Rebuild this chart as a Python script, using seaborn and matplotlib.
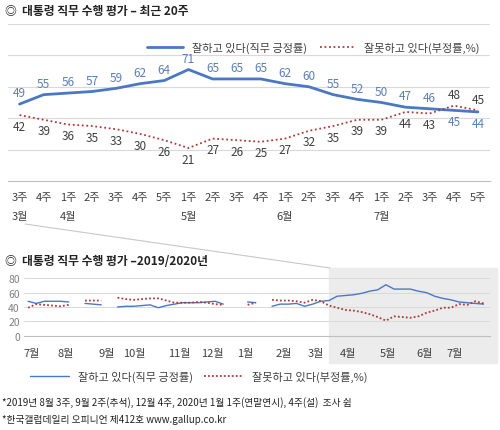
import numpy as np
import pandas as pd
import seaborn as sns
import matplotlib.pyplot as plt
from matplotlib.patches import Rectangle
from matplotlib.lines import Line2D

sns.set_style("white")
plt.rcParams['font.family'] = ['Noto Sans CJK KR', 'DejaVu Sans']

weeks = ["3주", "4주", "1주", "2주", "3주", "4주", "5주", "1주", "2주", "3주",
         "4주", "1주", "2주", "3주", "4주", "1주", "2주", "3주", "4주", "5주"]
months_top = {0: "3월", 2: "4월", 7: "5월", 11: "6월", 15: "7월"}
pos_top = [49, 55, 56, 57, 59, 62, 64, 71, 65, 65, 65, 62, 60, 55, 52, 50, 47, 46, 45, 44]
neg_top = [42, 39, 36, 35, 33, 30, 26, 21, 27, 26, 25, 27, 32, 35, 39, 39, 44, 43, 48, 45]

nan = np.nan
pos_early = [48, 45, 48, 48, 48, 47, nan, 45, 44, 43, nan,
             40, 41, 41, 42, 43, 39, 42, 44, 46, 46, 46, 47, 48, 44, nan, nan,
             47, 46, nan, 41, 44, 44, 45, 41, 44, 48]
neg_early = [39, 44, 43, 42, 41, 43, nan, 49, 49, 49, nan,
             53, 51, 50, 51, 52, 52, 49, 46, 46, 46, 47, 46, 44, 43, nan, nan,
             43, 46, nan, 50, 49, 49, 48, 46, 50, 48]
month_labels = ["7월", "8월", "9월", "10월", "11월", "12월", "1월", "2월", "3월", "4월", "5월", "6월", "7월"]
month_pos = [0.5, 4.6, 9.7, 13.1, 18.6, 22.7, 26.7, 31.4, 35.4, 39.3, 44.2, 48.7, 52.4]

BLUE = "#4a78c2"
RED = "#b03a3a"
LBLUE = "#5b7fb5"
DARK = "#404040"

fig = plt.figure(figsize=(5, 4.31), dpi=100)
H = 431

def fy(p):
    return 1 - p / H

# ---------- top chart ----------
ax = fig.add_axes([0.015, fy(182), 0.965, fy(25) - fy(182)])
df = pd.DataFrame({"x": range(20), "pos": pos_top, "neg": neg_top})
sns.lineplot(data=df, x="x", y="pos", ax=ax, color=BLUE, lw=2)
sns.lineplot(data=df, x="x", y="neg", ax=ax, color=RED, lw=1.3, linestyle=(0, (1, 1.5)))
ax.set_xlim(-0.4, 19.4)
ax.set_ylim(0, 100)
for g in [20, 40, 60, 80, 100]:
    ax.axhline(g, color="#d9d9d9", lw=0.8, zorder=0)
for s in ["top", "right", "left"]:
    ax.spines[s].set_visible(False)
ax.spines["bottom"].set_color("#bfbfbf")
ax.set_xticks(np.arange(21) - 0.5)
ax.set_xticklabels([])
ax.tick_params(axis="x", length=4, color="#bfbfbf", direction="out")
ax.set_yticks([])
ax.set_xlabel(""); ax.set_ylabel("")
for i, (p, n) in enumerate(zip(pos_top, neg_top)):
    if n > p:
        ax.text(i, n + 3, str(n), ha="center", va="bottom", fontsize=8.5, color=DARK)
        ax.text(i, p - 3, str(p), ha="center", va="top", fontsize=8.5, color=LBLUE)
    else:
        ax.text(i, p + 3, str(p), ha="center", va="bottom", fontsize=8.5, color=LBLUE)
        ax.text(i, n - 3, str(n), ha="center", va="top", fontsize=8.5, color=DARK)
    ax.text(i, -7, weeks[i], ha="center", va="top", fontsize=8, color=DARK)
    if i in months_top:
        ax.text(i, -19, months_top[i], ha="center", va="top", fontsize=8, color=DARK)
leg_top = [Line2D([], [], color=BLUE, lw=2), Line2D([], [], color=RED, lw=1.3, linestyle=(0, (1, 1.5)))]
ax.legend(leg_top, ["잘하고 있다(직무 긍정률)", "잘못하고 있다(부정률,%)"], loc="upper right",
          bbox_to_anchor=(1.0, 0.95), ncol=2, frameon=False, fontsize=8, handlelength=3.2,
          columnspacing=1.2, labelcolor=DARK)

fig.text(0.01, fy(11), "◎  대통령 직무 수행 평가 – 최근 20주", fontsize=8.5, fontweight="bold",
         va="center", color="#222222")

# ---------- bottom chart ----------
pos_all = pos_early + pos_top
neg_all = neg_early + neg_top
N = len(pos_all)
shade = Rectangle((329 / 500, fy(364)), (497 - 329) / 500, (364 - 269) / H,
                  transform=fig.transFigure, color="#ececec", zorder=-5)
fig.patches.append(shade)
fig.add_artist(Line2D([25 / 500, 330 / 500], [fy(225), fy(269)], color="#c8c8c8", lw=0.8,
                      transform=fig.transFigure, zorder=-4))

ax2 = fig.add_axes([24 / 500, fy(336.7), 466 / 500, (336.7 - 279.3) / H])
ax2.set_zorder(3)
ax2.patch.set_alpha(0)
df2 = pd.DataFrame({"x": range(N), "pos": pos_all, "neg": neg_all})
ax2.plot(df2["x"], df2["pos"], color=BLUE, lw=1)
ax2.plot(df2["x"], df2["neg"], color=RED, lw=1.3, linestyle=(0, (1, 1.2)))
ax2.set_xlim(-0.5, N - 0.2)
ax2.set_ylim(0, 80)
ax2.set_yticks([0, 20, 40, 60, 80])
ax2.set_yticklabels(["0", "20", "40", "60", "80"], fontsize=7.5, color="#808080")
ax2.tick_params(axis="y", length=0, pad=3)
for g in [20, 40, 60, 80]:
    ax2.axhline(g, color="#d9d9d9", lw=0.7, zorder=0)
for s in ["top", "right", "left"]:
    ax2.spines[s].set_visible(False)
ax2.spines["bottom"].set_color("#bfbfbf")
ax2.set_xticks(np.arange(N + 1) - 0.5)
ax2.set_xticklabels([])
ax2.tick_params(axis="x", length=3, color="#bfbfbf", direction="out")
for lab, p in zip(month_labels, month_pos):
    ax2.text(p, -17, lab, ha="center", va="top", fontsize=8, color=DARK)

fig.text(0.01, fy(262), "◎  대통령 직무 수행 평가 –2019/2020년", fontsize=8.5, fontweight="bold",
         va="center", color="#222222")
fig.legend([Line2D([], [], color=BLUE, lw=1), Line2D([], [], color=RED, lw=1.3, linestyle=(0, (1, 1.2)))],
           ["잘하고 있다(직무 긍정률)", "잘못하고 있다(부정률,%)"], loc="center left",
           bbox_to_anchor=(0.04, fy(377)), ncol=2, frameon=False, fontsize=8, handlelength=3.5,
           columnspacing=1.0, labelcolor=DARK)
fig.text(0.005, fy(403), "*2019년 8월 3주, 9월 2주(추석), 12월 4주, 2020년 1월 1주(연말연시), 4주(설)  조사 쉼",
         fontsize=7, va="center", color="#222222")
fig.text(0.005, fy(420), "*한국갤럽데일리 오피니언 제412호 www.gallup.co.kr", fontsize=7, va="center", color="#222222")

fig.savefig("out.png", dpi=100, facecolor="white")
